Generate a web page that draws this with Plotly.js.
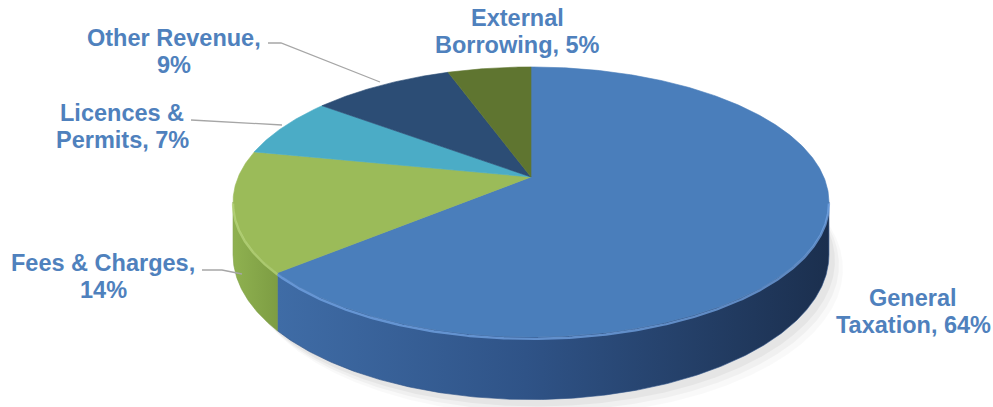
<!DOCTYPE html>
<html>
<head>
<meta charset="utf-8">
<script src="https://cdn.plot.ly/plotly-3.0.1.min.js"></script>
<style>html,body{margin:0;padding:0;background:#fff;}#chart{width:993px;height:407px;}</style>
</head>
<body>
<div id="chart"></div>
<script>
// ---- data ----
const categories = ['General Taxation', 'Fees & Charges', 'Licences & Permits', 'Other Revenue', 'External Borrowing'];
const values = [63.8, 14.4, 7.2, 9.2, 5.4];          // share of revenue (%), labels show rounded values
const labelFirst = ['General', 'Fees & Charges,', 'Licences &', 'Other Revenue,', 'External'];
const labelSecond = ['Taxation, ', '', 'Permits, ', '', 'Borrowing, '];

// ---- styles ----
const topColors = ['#4a7ebb', '#9bbb59', '#4bacc6', '#2c4d75', '#5f7530'];
const sideScales = [
  [[0, '#3f6ca6'], [0.45, '#2f5387'], [1, '#1b2f4e']],
  [[0, '#8fb150'], [1, '#7d9d43']],
  [[0, '#43a0b8'], [1, '#3a8ca2']],
  [[0, '#27456a'], [1, '#213b5c']],
  [[0, '#566b2b'], [1, '#4c5f26']]
];
const rimHighlight = ['#74a6e6', '#b8d67c', '#7cc6da', '#4a6c98', '#7d9448'];
const labelPos = [[913, 311], [103, 276], [122, 126], [174, 51], [517, 31]];
const lineGap = 27;
const leaders = [
  null,
  [[202, 270], [222, 270], [242, 274]],
  [[191, 120], [282, 125]],
  [[268, 43], [281, 43], [380, 82]],
  null
];

// ---- projection of a tilted disc (perspective) into pixel space ----
const cx = 531, cy = 177, A = 292.8, B = 130.4, e = 0.185, depth = 51;
function proj(deg, drop) {
  const t = deg * Math.PI / 180;
  const X = Math.sin(t), Z = Math.cos(t);
  const w = 1 + e * Z;
  return [cx + A * X / w, cy - B * Z / w + drop / w];
}
function arc(a0, a1, drop) {
  const pts = [];
  const n = Math.max(2, Math.ceil(Math.abs(a1 - a0) / 0.5));
  for (let i = 0; i <= n; i++) pts.push(proj(a0 + (a1 - a0) * i / n, drop));
  return pts;
}
const visA = Math.acos(-e) * 180 / Math.PI;   // front silhouette
const visB = 360 - visA;

const total = values.reduce((s, v) => s + v, 0);
const traces = [];
const tops = [], sides = [], rims = [];

// soft shadow (layered)
[[14, 4, 10, 0.025], [10, 3, 7, 0.035], [6, 2, 4, 0.045]].forEach(s => {
  const sh = arc(0, 360, depth + s[2]).map(p => [p[0] + s[0], p[1] + s[1]]);
  traces.push({type: 'scatter', mode: 'lines', x: sh.map(p => p[0]), y: sh.map(p => p[1]),
    fill: 'toself', fillcolor: 'rgba(0,0,0,' + s[3] + ')', line: {width: 0, color: 'rgba(0,0,0,0)'}, hoverinfo: 'skip'});
});

let start = 0;
values.forEach((v, i) => {
  const a0 = start, a1 = start + 360 * v / total;
  start = a1;
  // top face
  const top = [[cx, cy]].concat(arc(a0, a1, 0));
  top.push([cx, cy]);
  tops.push({type: 'scatter', mode: 'lines', x: top.map(p => p[0]), y: top.map(p => p[1]),
    fill: 'toself', fillcolor: topColors[i], line: {width: 0.6, color: topColors[i]},
    name: categories[i], hoverinfo: 'name'});
  // visible side
  const s0 = Math.max(a0, visA), s1 = Math.min(a1, visB);
  if (s1 > s0) {
    const upper = arc(s0, s1, 0), lower = arc(s1, s0, depth);
    const poly = upper.concat(lower);
    poly.push(upper[0]);
    sides.push({type: 'scatter', mode: 'lines', x: poly.map(p => p[0]), y: poly.map(p => p[1]),
      fill: 'toself', fillcolor: sideScales[i][0][1],
      fillgradient: {type: 'horizontal', colorscale: sideScales[i]},
      line: {width: 0.6, color: sideScales[i][1][1]}, hoverinfo: 'skip'});
    const r = arc(s0, s1, 1.5);
    rims.push({type: 'scatter', mode: 'lines', x: r.map(p => p[0]), y: r.map(p => p[1]),
      line: {width: 2.4, color: rimHighlight[i]}, opacity: 0.75, hoverinfo: 'skip'});
  }
});
traces.push(...sides, ...tops, ...rims);

const font = {family: 'Liberation Sans, Arial, sans-serif', size: 23.5, color: '#4f81bd'};
const annotations = [];
categories.forEach((c, i) => {
  const pct = Math.round(values[i]) + '%';
  const l1 = labelSecond[i] === '' ? labelFirst[i] : labelFirst[i];
  const l2 = labelSecond[i] === '' ? pct : labelSecond[i] + pct;
  [[l1, -lineGap / 2], [l2, lineGap / 2]].forEach(l => {
    annotations.push({x: labelPos[i][0], y: labelPos[i][1] + l[1], xref: 'x', yref: 'y',
      text: '<b>' + l[0] + '</b>', showarrow: false, xanchor: 'center', yanchor: 'middle', font: font});
  });
});

const shapes = [];
leaders.forEach(l => {
  if (!l) return;
  shapes.push({type: 'path', xref: 'x', yref: 'y',
    path: 'M' + l.map(p => p[0] + ',' + p[1]).join('L'),
    line: {color: '#a6a6a6', width: 1.3}});
});

Plotly.newPlot('chart', traces, {
  width: 993, height: 407,
  margin: {l: 0, r: 0, t: 0, b: 0},
  paper_bgcolor: '#ffffff', plot_bgcolor: '#ffffff',
  showlegend: false,
  xaxis: {range: [0, 993], visible: false, fixedrange: true},
  yaxis: {range: [407, 0], visible: false, fixedrange: true},
  annotations: annotations,
  shapes: shapes
}, {staticPlot: true});
</script>
</body>
</html>
